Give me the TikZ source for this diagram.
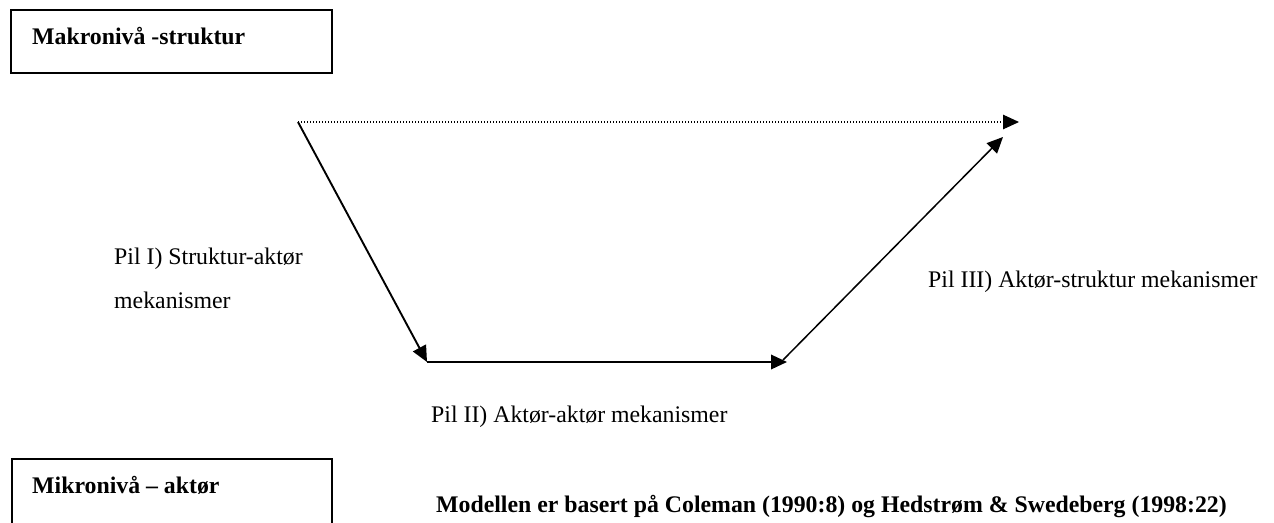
\documentclass[tikz,border=0pt]{standalone}
\usepackage{fontspec}
\setmainfont{Liberation Serif}
\usetikzlibrary{arrows.meta}

\begin{document}
\begin{tikzpicture}[x=1pt,y=-1pt,
  txt/.style={anchor=base west,inner sep=0pt,font=\fontsize{23.8}{28}\selectfont},
  btxt/.style={txt,font=\fontsize{23.8}{28}\selectfont\bfseries},
  levelbox/.style={draw,line width=2pt},
  headtip/.style={-{Triangle[length=16pt,width=14.5pt]}},
  flow/.style={line width=1.9pt,headtip},
  thinflow/.style={line width=1.5pt,headtip},
  dotflow/.style={line width=1.1pt,dash pattern=on 1pt off 2pt,headtip}
]
\useasboundingbox (0,0) rectangle (1274,522);

% level boxes
\draw[levelbox] (11,10) rectangle (332,73);
\node[btxt] (makro) at (32,44) {Makronivå -struktur};
\draw[levelbox] (12,530) -- (12,458.5) -- (332,458.5) -- (332,530);
\node[btxt] (mikro) at (32,493) {Mikronivå – aktør};

% corner points of the mechanism diagram
\coordinate (macroA) at (298,122);
\coordinate (macroB) at (1019,122);
\coordinate (microA) at (427,362);
\coordinate (microB) at (787,362);
\coordinate (upTip)  at (1003,137);
\coordinate (upFoot) at (783,360);

% arrows
\draw[dotflow] (macroA) -- (macroB);
\draw[flow] (macroA) -- (microA);
\draw[flow] (microA) -- (microB);
\draw[thinflow] (upFoot) -- (upTip);

% labels
\node[txt] (pil1a) at (114,264) {Pil I) Struktur-aktør};
\node[txt] (pil1b) at (114,308) {mekanismer};
\node[txt] (pil3) at (928,287) {Pil III) Aktør-struktur mekanismer};
\node[txt] (pil2) at (431,422) {Pil II) Aktør-aktør mekanismer};
\node[btxt] (kilde) at (436,512) {Modellen er basert på Coleman (1990:8) og Hedstrøm \& Swedeberg (1998:22)};
\end{tikzpicture}
\end{document}
